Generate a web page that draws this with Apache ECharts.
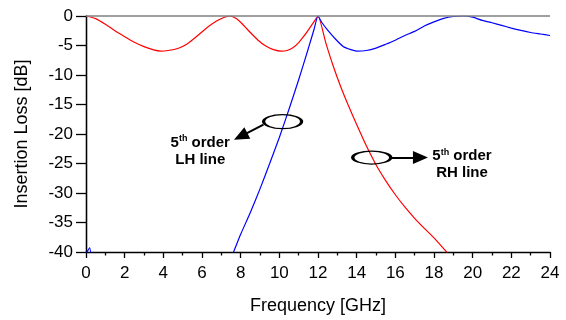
<!DOCTYPE html>
<html>
<head>
<meta charset="utf-8">
<script src="https://cdn.jsdelivr.net/npm/echarts@6/dist/echarts.min.js"></script>
<style>
html,body{margin:0;padding:0;background:#fff;}
#c{width:566px;height:320px;}
</style>
</head>
<body>
<div id="c"></div>
<script>
// ---- data ----
const xTicks = [0, 2, 4, 6, 8, 10, 12, 14, 16, 18, 20, 22, 24];
const yTicks = [0, -5, -10, -15, -20, -25, -30, -35, -40];

// RH line (red)
const redFreq = [0,0.5,1,1.5,2,2.5,3,3.5,3.85,4.25,4.75,5.25,5.75,6.25,6.75,7.1,7.4,7.75,8.1,8.5,8.9,9.3,9.7,10.1,10.4,10.7,11.0,11.3,11.6,11.85,12.0,12.4,12.8,13.2,13.6,14.0,14.5,15.0,15.5,16.0,16.5,17.0,17.5,18.0,18.66,19.0];
const redLoss = [0,-0.45,-1.4,-2.5,-3.5,-4.45,-5.2,-5.75,-5.95,-5.85,-5.5,-4.7,-3.4,-2.0,-0.85,-0.3,0,-0.4,-1.4,-2.8,-4.1,-5.1,-5.7,-5.95,-5.85,-5.4,-4.5,-3.3,-1.9,-0.7,0,-4.5,-8.6,-12.2,-15.4,-18.4,-22.0,-25.2,-27.9,-30.3,-32.4,-34.3,-36.0,-37.6,-40,-41.2];

// LH line (blue)
const blueFreq = [0,0.19,0.28,3.0,7.3,7.63,8,8.5,9,9.5,10,10.5,11,11.5,11.8,12,12.2,12.5,12.9,13.3,13.7,14.0,14.5,15,15.5,16,16.5,17,17.5,18,18.5,19,19.5,20,20.5,21,21.5,22,22.5,23,23.5,24];
const blueLoss = [-40.3,-39.3,-41.5,null,-42.5,-40,-37,-33.3,-29.3,-25,-20.6,-15.8,-10.8,-5.5,-2.2,0,-1.1,-2.4,-3.9,-5.15,-5.7,-5.94,-5.85,-5.45,-4.8,-4.1,-3.3,-2.6,-1.7,-1.0,-0.4,-0.08,0,-0.2,-0.75,-1.15,-1.6,-2.05,-2.45,-2.8,-3.05,-3.3];

// annotations (data coordinates)
const lhEllipse = [10.17, -17.9];
const lhArrow = [[9.18, -18.4], [8.0, -20.4]];
const lhText = [5.91, -22.9];
const rhEllipse = [14.78, -24.0];
const rhArrow = [[15.76, -24.0], [17.3, -24.0]];
const rhText = [19.45, -25.2];
const xName = 'Frequency [GHz]';
const yName = 'Insertion Loss [dB]';

const zip = (a, b) => a.map((v, i) => [v, b[i]]);
const FONT = "'Liberation Sans', Arial, Helvetica, sans-serif";

const chart = echarts.init(document.getElementById('c'), null, {renderer: 'canvas'});
const richText = {
  b: {fontFamily: FONT, fontWeight: 'bold', fontSize: 15, color: '#000', lineHeight: 17, align: 'center'},
  s: {fontFamily: FONT, fontWeight: 'bold', fontSize: 9, color: '#000', lineHeight: 17, verticalAlign: 'top', align: 'center'}
};
const ellipseStyle = {color: 'rgba(0,0,0,0)', borderColor: '#000', borderWidth: 2};

chart.setOption({
  animation: false,
  backgroundColor: '#fff',
  grid: {left: 86, right: 16, top: 16, bottom: 67, containLabel: false},
  xAxis: {
    type: 'value', min: 0, max: 24, interval: 2,
    name: xName, nameLocation: 'middle', nameGap: 45,
    nameTextStyle: {fontFamily: FONT, fontSize: 18, color: '#000'},
    axisLine: {show: true, onZero: false, lineStyle: {color: '#000', width: 1.3}},
    axisTick: {show: true, length: 6, lineStyle: {color: '#000', width: 1.3}},
    minorTick: {show: true, splitNumber: 2, length: 3.5, lineStyle: {color: '#000', width: 1.3}},
    axisLabel: {fontFamily: FONT, fontSize: 17, color: '#000', margin: 13,
      formatter: v => xTicks.includes(v) ? String(v) : ''},
    splitLine: {show: false}
  },
  yAxis: [{
    type: 'value', min: -40, max: 0, interval: 5,
    name: yName, nameLocation: 'middle', nameGap: 55,
    nameTextStyle: {fontFamily: FONT, fontSize: 18, color: '#000'},
    axisLine: {show: true, onZero: false, lineStyle: {color: '#000', width: 1.3}},
    axisTick: {show: true, length: 10, lineStyle: {color: '#000', width: 1.3}},
    axisLabel: {fontFamily: FONT, fontSize: 17, color: '#000', margin: 13,
      formatter: v => yTicks.includes(v) ? String(v) : ''},
    splitLine: {show: false}
  }, {
    type: 'value', min: -40, max: 0, position: 'right',
    axisLine: {show: true, lineStyle: {color: '#000', width: 1.3}},
    axisTick: {show: false}, axisLabel: {show: false}, splitLine: {show: false}
  }],
  series: [
    {
      type: 'line', data: [], z: 1, silent: true,
      markLine: {silent: true, symbol: 'none', label: {show: false},
        lineStyle: {color: '#808080', width: 1.6, type: 'solid'},
        data: [{yAxis: 0}]}
    },
    {
      name: 'RH', type: 'line', data: zip(redFreq, redLoss), z: 3,
      showSymbol: false, smooth: 0.2, clip: true,
      lineStyle: {color: '#ff0000', width: 1.2}
    },
    {
      name: 'LH', type: 'line', data: zip(blueFreq, blueLoss), z: 3,
      showSymbol: false, smooth: 0.2, clip: true, connectNulls: false,
      lineStyle: {color: '#0000ff', width: 1.2}
    },
    {
      type: 'line', data: [], z: 5, silent: true,
      markPoint: {
        silent: true,
        data: [
          {coord: lhEllipse, symbol: 'circle', symbolSize: [38, 14], itemStyle: ellipseStyle, label: {show: false}},
          {coord: rhEllipse, symbol: 'circle', symbolSize: [38, 13], itemStyle: ellipseStyle, label: {show: false}},
          {coord: lhText, symbol: 'circle', symbolSize: 0,
            label: {show: true, position: 'inside', formatter: '{b|5}{s|th}{b| order}\n{b|LH line}', rich: richText}},
          {coord: rhText, symbol: 'circle', symbolSize: 0,
            label: {show: true, position: 'inside', formatter: '{b|5}{s|th}{b| order}\n{b|RH line}', rich: richText}}
        ]
      },
      markLine: {
        silent: true,
        symbol: ['none', 'triangle'], symbolSize: [13, 15],
        label: {show: false},
        lineStyle: {color: '#000', width: 2, type: 'solid'},
        data: [
          [{coord: lhArrow[0]}, {coord: lhArrow[1]}],
          [{coord: rhArrow[0]}, {coord: rhArrow[1]}]
        ]
      }
    }
  ]
});
</script>
</body>
</html>
